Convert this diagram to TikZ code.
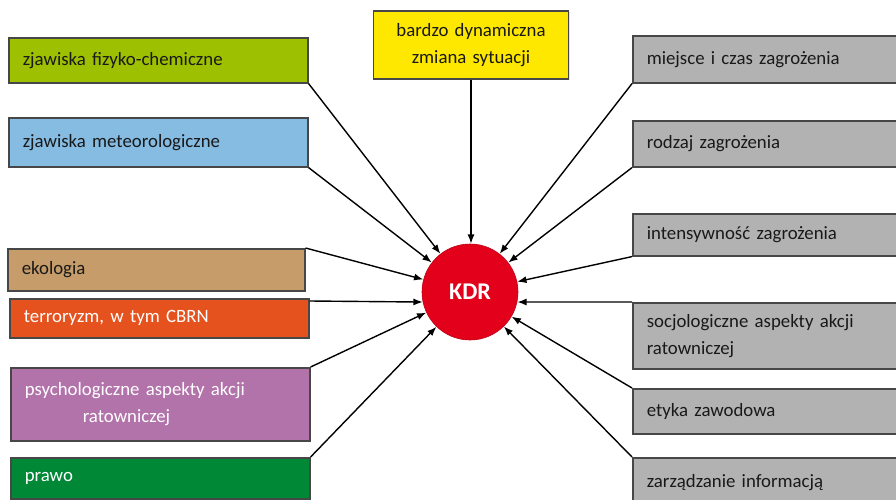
\documentclass[tikz,border=0pt]{standalone}
\usepackage{fontspec}
\setmainfont{Carlito}
\usetikzlibrary{arrows.meta}
\usetikzlibrary{shadows}
\tikzset{>=Latex}
\definecolor{limegr}{RGB}{157,192,0}
\definecolor{skyblu}{RGB}{134,187,226}
\definecolor{tanbox}{RGB}{198,156,106}
\definecolor{orngbox}{RGB}{229,82,30}
\definecolor{mauvebox}{RGB}{178,114,170}
\definecolor{greenbox}{RGB}{0,136,55}
\definecolor{yelbox}{RGB}{255,232,0}
\definecolor{greybox}{RGB}{178,178,179}
\definecolor{kdrred}{RGB}{226,0,26}

\begin{document}
\begin{tikzpicture}[x=1pt,y=-1pt,line width=1.4pt,
  box/.style={draw=black!72, line width=1.6pt, anchor=north west, inner xsep=14pt,
    align=left, text=black!90, font=\fontsize{18.8}{27}\selectfont,
    drop shadow={opacity=0.2, shadow xshift=1.5pt, shadow yshift=-1.5pt}},
  lbox/.style={box, text width=271pt},
  rbox/.style={box, fill=greybox, text width=240pt}]
  \useasboundingbox (0,0) rectangle (896,500);

  % left column
  \node[lbox,fill=limegr,minimum height=45pt] (fizyko) at (8,37) {zjawiska fizyko-chemiczne};
  \node[lbox,fill=skyblu,minimum height=49pt] (meteo) at (8,117) {zjawiska meteorologiczne};
  \node[lbox,fill=tanbox,minimum height=42pt,text width=269pt] (eko) at (7,248) {ekologia};
  \node[lbox,fill=orngbox,minimum height=39pt,text=white] (terror) at (9,298) {terroryzm, w tym CBRN};
  \node[lbox,fill=mauvebox,minimum height=73pt,text=white] (psycho) at (10,367)
    {psychologiczne aspekty akcji\\\hspace*{58pt}ratowniczej};
  \node[lbox,fill=greenbox,minimum height=41pt,text=white] (prawo) at (10,457) {prawo};

  % top
  \node[box,fill=yelbox,anchor=north,text width=167pt,minimum height=68pt,align=center] (dyn) at (471,10)
    {bardzo dynamiczna\\zmiana sytuacji};

  % right column
  \node[rbox,minimum height=47pt] (miejsce) at (632,35) {miejsce i czas zagrożenia};
  \node[rbox,minimum height=46pt] (rodzaj) at (632,120) {rodzaj zagrożenia};
  \node[rbox,minimum height=42pt] (intens) at (632,213) {intensywność zagrożenia};
  \node[rbox,minimum height=66pt] (socjo) at (632,302) {socjologiczne aspekty akcji\\ratowniczej};
  \node[rbox,minimum height=45pt] (etyka) at (632,388) {etyka zawodowa};
  \node[rbox,minimum height=50pt] (zarz) at (632,457) {zarządzanie informacją};

  % centre
  \node[circle,fill=kdrred,draw=kdrred!85!black,line width=0.6pt,minimum size=96pt,
    text=white,font=\bfseries\fontsize{24}{24}\selectfont] (kdr) at (470,292) {KDR};

  % arrows
  \draw[->] (dyn.south) -- (dyn.south |- kdr.north);
  \draw[->] (fizyko.south east) -- (kdr);
  \draw[->] (meteo.south east) -- (kdr);
  \draw[->] (eko.north east) -- (kdr);
  \draw[->] ([yshift=-3pt]terror.north east) -- (kdr.192);
  \draw[->] (psycho.north east) -- (kdr);
  \draw[->] (prawo.north east) -- (kdr);
  \draw[->] (miejsce.south west) -- (kdr);
  \draw[->] (rodzaj.south west) -- (kdr);
  \draw[->] (intens.south west) -- (kdr);
  \draw[->] (socjo.north west) -- (kdr.-12);
  \draw[->] (etyka.north west) -- (kdr);
  \draw[->] (zarz.north west) -- (kdr);
\end{tikzpicture}
\end{document}
